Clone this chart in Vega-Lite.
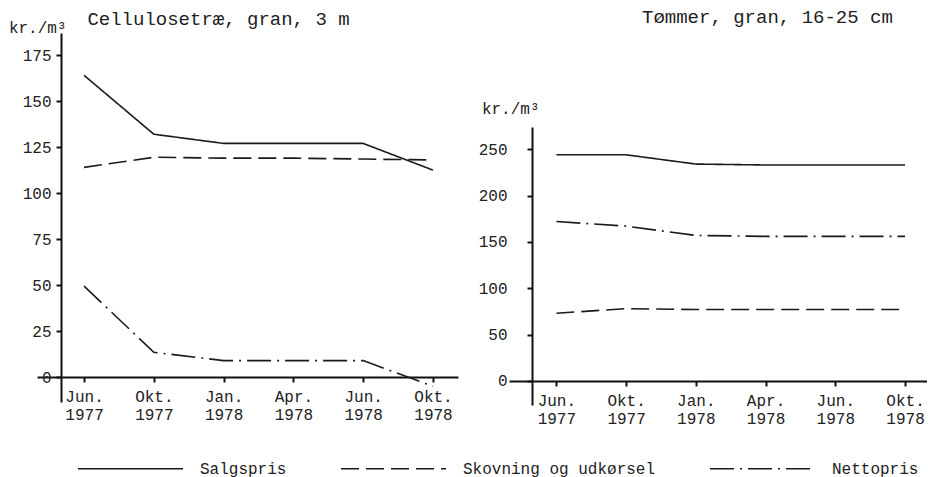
{
  "$schema": "https://vega.github.io/schema/vega-lite/v6.json",
  "padding": {"left": 8, "top": 8, "right": 0, "bottom": 0},
  "background": "white",
  "spacing": 20,
  "config": {
    "view": {"stroke": null},
    "font": "Liberation Mono",
    "axis": {
      "labelFont": "Liberation Mono", "titleFont": "Liberation Mono",
      "labelFontSize": 16, "titleFontSize": 16,
      "labelColor": "#222", "titleColor": "#222", "titleFontWeight": "normal",
      "domainColor": "#111", "domainWidth": 2, "tickColor": "#111", "tickWidth": 2, "tickSize": 5, "grid": false
    },
    "title": {"font": "Liberation Mono", "fontSize": 19, "fontWeight": "normal", "color": "#222", "anchor": "start", "baseline": "alphabetic"},
    "legend": {"labelFont": "Liberation Mono", "labelFontSize": 16, "labelColor": "#222", "labelLimit": 0}
  },
  "datasets": {
    "priser": [
      {"panel": "Cellulosetræ", "periode": "Jun. 1977", "serie": "Salgspris", "kr": 164},
      {"panel": "Cellulosetræ", "periode": "Okt. 1977", "serie": "Salgspris", "kr": 132},
      {"panel": "Cellulosetræ", "periode": "Jan. 1978", "serie": "Salgspris", "kr": 127},
      {"panel": "Cellulosetræ", "periode": "Apr. 1978", "serie": "Salgspris", "kr": 127},
      {"panel": "Cellulosetræ", "periode": "Jun. 1978", "serie": "Salgspris", "kr": 127},
      {"panel": "Cellulosetræ", "periode": "Okt. 1978", "serie": "Salgspris", "kr": 112.5},
      {"panel": "Cellulosetræ", "periode": "Jun. 1977", "serie": "Skovning og udkørsel", "kr": 114},
      {"panel": "Cellulosetræ", "periode": "Okt. 1977", "serie": "Skovning og udkørsel", "kr": 119.5},
      {"panel": "Cellulosetræ", "periode": "Jan. 1978", "serie": "Skovning og udkørsel", "kr": 119},
      {"panel": "Cellulosetræ", "periode": "Apr. 1978", "serie": "Skovning og udkørsel", "kr": 119},
      {"panel": "Cellulosetræ", "periode": "Jun. 1978", "serie": "Skovning og udkørsel", "kr": 118.5},
      {"panel": "Cellulosetræ", "periode": "Okt. 1978", "serie": "Skovning og udkørsel", "kr": 118},
      {"panel": "Cellulosetræ", "periode": "Jun. 1977", "serie": "Nettopris", "kr": 49.5},
      {"panel": "Cellulosetræ", "periode": "Okt. 1977", "serie": "Nettopris", "kr": 13.5},
      {"panel": "Cellulosetræ", "periode": "Jan. 1978", "serie": "Nettopris", "kr": 9},
      {"panel": "Cellulosetræ", "periode": "Apr. 1978", "serie": "Nettopris", "kr": 9},
      {"panel": "Cellulosetræ", "periode": "Jun. 1978", "serie": "Nettopris", "kr": 9},
      {"panel": "Cellulosetræ", "periode": "Okt. 1978", "serie": "Nettopris", "kr": -5},
      {"panel": "Tømmer", "periode": "Jun. 1977", "serie": "Salgspris", "kr": 244},
      {"panel": "Tømmer", "periode": "Okt. 1977", "serie": "Salgspris", "kr": 244},
      {"panel": "Tømmer", "periode": "Jan. 1978", "serie": "Salgspris", "kr": 234},
      {"panel": "Tømmer", "periode": "Apr. 1978", "serie": "Salgspris", "kr": 233},
      {"panel": "Tømmer", "periode": "Jun. 1978", "serie": "Salgspris", "kr": 233},
      {"panel": "Tømmer", "periode": "Okt. 1978", "serie": "Salgspris", "kr": 233},
      {"panel": "Tømmer", "periode": "Jun. 1977", "serie": "Skovning og udkørsel", "kr": 73},
      {"panel": "Tømmer", "periode": "Okt. 1977", "serie": "Skovning og udkørsel", "kr": 78},
      {"panel": "Tømmer", "periode": "Jan. 1978", "serie": "Skovning og udkørsel", "kr": 77},
      {"panel": "Tømmer", "periode": "Apr. 1978", "serie": "Skovning og udkørsel", "kr": 77},
      {"panel": "Tømmer", "periode": "Jun. 1978", "serie": "Skovning og udkørsel", "kr": 77},
      {"panel": "Tømmer", "periode": "Okt. 1978", "serie": "Skovning og udkørsel", "kr": 77},
      {"panel": "Tømmer", "periode": "Jun. 1977", "serie": "Nettopris", "kr": 172},
      {"panel": "Tømmer", "periode": "Okt. 1977", "serie": "Nettopris", "kr": 167},
      {"panel": "Tømmer", "periode": "Jan. 1978", "serie": "Nettopris", "kr": 157},
      {"panel": "Tømmer", "periode": "Apr. 1978", "serie": "Nettopris", "kr": 156},
      {"panel": "Tømmer", "periode": "Jun. 1978", "serie": "Nettopris", "kr": 156},
      {"panel": "Tømmer", "periode": "Okt. 1978", "serie": "Nettopris", "kr": 156}
    ]
  },
  "hconcat": [
    {
      "width": 421,
      "height": 369,
      "data": {"name": "priser"},
      "transform": [{"filter": "datum.panel == 'Cellulosetræ'"}],
      "title": {"text": "Cellulosetræ, gran, 3 m", "dx": 79, "offset": -10},
      "mark": {"type": "line", "strokeWidth": 1.6, "color": "#1a1a1a"},
      "encoding": {
        "x": {
          "field": "periode", "type": "ordinal", "sort": null,
          "scale": {"type": "point", "padding": 0.516, "align": 0.653},
          "axis": {"title": null, "labelAngle": 0, "labelExpr": "split(datum.label, ' ')", "offset": -25, "labelPadding": 6, "labelLineHeight": 18, "labelBaseline": "top"}
        },
        "y": {
          "field": "kr", "type": "quantitative",
          "scale": {"domain": [-13.5, 187], "nice": false, "zero": false},
          "axis": {"values": [0, 25, 50, 75, 100, 125, 150, 175], "offset": -24, "title": "kr./m³", "titleAngle": 0, "titleAlign": "right", "titleBaseline": "alphabetic", "titleX": 5, "titleY": -1, "labelPadding": 5}
        },
        "strokeDash": {
          "field": "serie", "type": "nominal",
          "scale": {"domain": ["Salgspris", "Skovning og udkørsel", "Nettopris"], "range": [[1, 0], [18, 7], [24, 6, 2, 6]]},
          "legend": {"orient": "none", "legendX": 40, "legendY": 382, "direction": "horizontal", "title": null, "symbolType": "stroke", "symbolSize": 11025, "symbolStrokeWidth": 1.6, "symbolStrokeColor": "#1a1a1a", "labelOffset": 16, "columnPadding": 50}
        }
      }
    },
    {
      "spacing": 0,
      "vconcat": [
        {
          "width": 418,
          "height": 67,
          "data": {"values": []},
          "title": {"text": "Tømmer, gran, 16-25 cm", "dx": 133, "offset": 6},
          "mark": "text",
          "encoding": {}
        },
        {
          "width": 418,
          "height": 278,
          "data": {"name": "priser"},
          "transform": [{"filter": "datum.panel == 'Tømmer'"}],
          "mark": {"type": "line", "strokeWidth": 1.6, "color": "#1a1a1a"},
          "encoding": {
            "x": {
              "field": "periode", "type": "ordinal", "sort": null,
              "scale": {"type": "point", "padding": 0.497, "align": 0.683},
              "axis": {"title": null, "labelAngle": 0, "labelExpr": "split(datum.label, ' ')", "offset": -24, "labelPadding": 6, "labelLineHeight": 18, "labelBaseline": "top"}
            },
            "y": {
              "field": "kr", "type": "quantitative",
              "scale": {"domain": [-26, 274], "nice": false, "zero": false},
              "axis": {"values": [0, 50, 100, 150, 200, 250], "offset": -23, "title": "kr./m³", "titleAngle": 0, "titleAlign": "right", "titleBaseline": "alphabetic", "titleX": 7, "titleY": -14, "labelPadding": 20}
            },
            "strokeDash": {
              "field": "serie", "type": "nominal",
              "scale": {"domain": ["Salgspris", "Skovning og udkørsel", "Nettopris"], "range": [[1, 0], [18, 7], [24, 6, 2, 6]]},
              "legend": {"orient": "none", "legendX": 40, "legendY": 382, "direction": "horizontal", "title": null, "symbolType": "stroke", "symbolSize": 11025, "symbolStrokeWidth": 1.6, "symbolStrokeColor": "#1a1a1a", "labelOffset": 16, "columnPadding": 50}
            }
          }
        }
      ]
    }
  ]
}
